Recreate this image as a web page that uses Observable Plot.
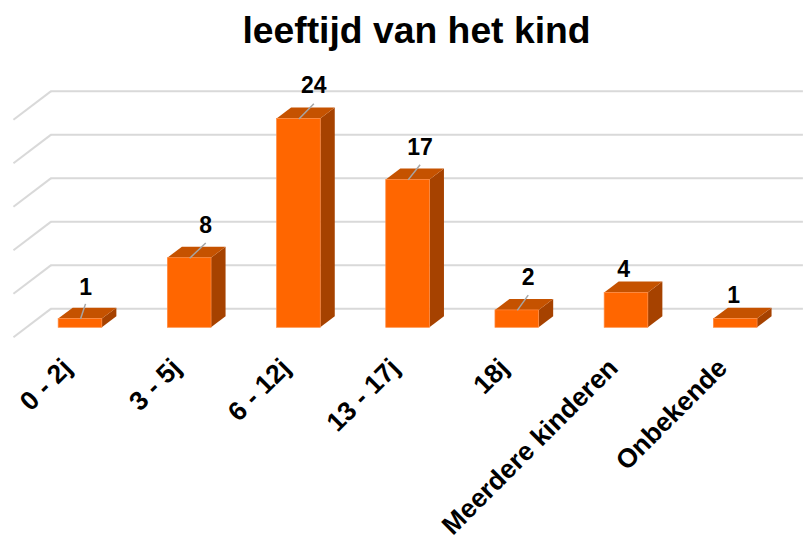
<!DOCTYPE html>
<html>
<head>
<meta charset="utf-8">
<style>
  html, body { margin: 0; padding: 0; background: #fff; overflow: hidden; }
  h1 { margin: 0; height: 62px; width: 833px; text-align: center; font: bold 37.3px/60px "Liberation Sans", Arial, sans-serif; color: #000; white-space: nowrap; }
  #chart svg { display: block; overflow: visible; }
</style>
<script src="https://cdn.jsdelivr.net/npm/d3@7"></script>
<script src="https://cdn.jsdelivr.net/npm/@observablehq/plot@0.6"></script>
</head>
<body>
<h1>leeftijd van het kind</h1>
<div id="chart"></div>
<script>
const categories = ["0 - 2j", "3 - 5j", "6 - 12j", "13 - 17j", "18j", "Meerdere kinderen", "Onbekende"];
const values = [1, 8, 24, 17, 2, 4, 1];
const gridValues = [0, 5, 10, 15, 20, 25];

const idx = categories.map((_, i) => i);
const halfBar = 0.2;
const depthX = 0.133, depthY = 1.26;       // bar depth in data units
const wallX = 0.345, wallY = 2.2;          // back wall offset
const floorY = -1.08;                      // front end of the floor lines
const wallLeft = -0.269, plotRight = 6.62;
const frontLeft = wallLeft - wallX;

// label placement, data units, relative to bar top
const labelShiftX = [0.046, 0.147, 0.137, 0.11, 0.1, -0.027, -0.018];
const labelLiftY = [3.65, 3.7, 3.8, 3.7, 3.8, 2.7, 2.7];
const hasLeader = [true, true, true, true, true, false, false];

const sideFace = idx.flatMap(i => [
  {i, x: i + halfBar, y1: 0, y2: values[i]},
  {i, x: i + halfBar + depthX, y1: depthY, y2: values[i] + depthY}
]);
const topFace = idx.flatMap(i => [
  {i, y: values[i], x1: i - halfBar, x2: i + halfBar},
  {i, y: values[i] + depthY, x1: i - halfBar + depthX, x2: i + halfBar + depthX}
]);

const chart = Plot.plot({
  width: 803,
  height: 480,
  marginLeft: 0, marginRight: 0, marginTop: 0, marginBottom: 187,
  x: {type: "linear", domain: [0, 6], range: [80, 735.2]},
  y: {type: "linear", domain: [0, 24], range: [265.3, 56.5], axis: null},
  marks: [
    Plot.ruleY(gridValues, {y: d => d + wallY, x1: wallLeft, x2: plotRight, stroke: "#d9d9d9", strokeWidth: 2}),
    Plot.link(gridValues, {
      x1: wallLeft, y1: d => d + wallY,
      x2: frontLeft, y2: d => d + floorY,
      stroke: "#d9d9d9", strokeWidth: 2
    }),
    Plot.areaY(sideFace, {x: "x", y1: "y1", y2: "y2", z: "i", fill: "#a64200"}),
    Plot.areaX(topFace, {y: "y", x1: "x1", x2: "x2", z: "i", fill: "#c55200"}),
    Plot.rect(idx, {
      x1: i => i - halfBar, x2: i => i + halfBar,
      y1: 0, y2: i => values[i],
      fill: "#ff6600", stroke: "#ff8a40", strokeWidth: 0.7
    }),
    Plot.link(idx.filter(i => hasLeader[i]), {
      x1: i => i, y1: i => values[i],
      x2: i => i + labelShiftX[i], y2: i => values[i] + 1.75,
      stroke: "#a6a6a6", strokeWidth: 1.5
    }),
    Plot.text(idx, {
      x: i => i + labelShiftX[i],
      y: i => values[i] + labelLiftY[i],
      text: i => String(values[i]),
      fontSize: 23, fontWeight: "bold", fontFamily: "Liberation Sans", fill: "#000"
    }),
    Plot.axisX({
      ticks: idx,
      tickFormat: i => categories[i],
      tickSize: 0,
      tickRotate: -45,
      tickPadding: 4,
      dx: -13, dy: 4,
      label: null,
      fontSize: 26.5, fontWeight: "bold", fontFamily: "Liberation Sans", fill: "#000"
    })
  ]
});
document.getElementById("chart").appendChild(chart);
</script>
</body>
</html>
